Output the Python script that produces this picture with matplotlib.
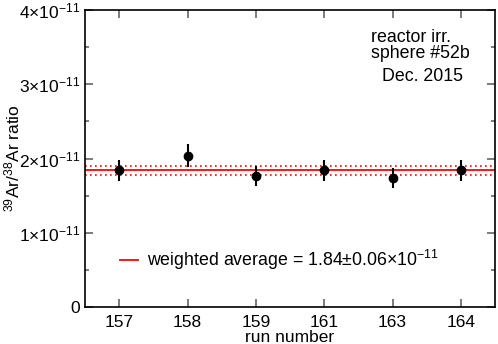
import matplotlib.pyplot as plt
import numpy as np

plt.rcParams['font.family'] = 'Liberation Sans'
plt.rcParams['mathtext.fontset'] = 'custom'
plt.rcParams['mathtext.rm'] = 'Liberation Sans'
plt.rcParams['mathtext.it'] = 'Liberation Sans'

# data (ratio in units of 1e-11)
runs = ['157', '158', '159', '161', '163', '164']
ratio = [1.84, 2.04, 1.76, 1.84, 1.74, 1.84]
err = [0.14, 0.15, 0.135, 0.14, 0.135, 0.14]
avg = 1.84
avg_err = 0.06
scale = 1e-11

x = np.arange(len(runs))
y = np.array(ratio) * scale
yerr = np.array(err) * scale

fig = plt.figure(figsize=(4.98, 3.44), dpi=100)
ax = fig.add_axes([85/498, 37/344, 410/498, 297/344])

ax.axhline(avg * scale, color='red', lw=1.3, label='weighted average = 1.84$\\pm$0.06$\\times$10$^{-11}$')
ax.axhline((avg + avg_err) * scale, color='red', lw=1.2, ls=(0, (1, 2)))
ax.axhline((avg - avg_err) * scale, color='red', lw=1.2, ls=(0, (1, 2)))
ax.errorbar(x, y, yerr=yerr, fmt='o', color='black', ms=6, elinewidth=1.5, capsize=0)

ax.set_xlim(-0.5, 5.5)
ax.set_ylim(0, 4e-11)
ax.set_xticks(x)
ax.set_xticklabels(runs)
yt = [0, 1, 2, 3, 4]
ax.set_yticks([v * scale for v in yt])
ax.set_yticklabels(['0'] + ['$%d{\\times}10^{-11}$' % v for v in yt[1:]])
ax.set_yticks(np.arange(0.5, 4, 1) * scale, minor=True)
ax.tick_params(which='both', direction='in', top=True, right=True, labelsize=12.5, color='#666666')
ax.tick_params(which='major', length=6, width=1.2)
ax.tick_params(which='minor', length=3, width=1.2)
ax.tick_params(axis='x', pad=6)
for s in ax.spines.values():
    s.set_linewidth(1.2)

ax.set_xlabel('run number', fontsize=12.5, labelpad=0)
ax.set_ylabel('$^{39}$Ar/$^{38}$Ar ratio', fontsize=12.5)
ax.yaxis.set_label_coords(-0.152, 0.5)

ax.text(0.697, 0.935, 'reactor irr.\nsphere #52b', transform=ax.transAxes, fontsize=12.8,
        va='top', ha='left', linespacing=0.9)
ax.text(0.724, 0.776, 'Dec. 2015', transform=ax.transAxes, fontsize=12.8, va='center', ha='left')

ax.legend(loc='center left', bbox_to_anchor=(0.085, 0.158), frameon=False, fontsize=12.8,
          handlelength=1.0, handletextpad=0.5, borderpad=0, borderaxespad=0)

fig.savefig('out.png', dpi=100)
